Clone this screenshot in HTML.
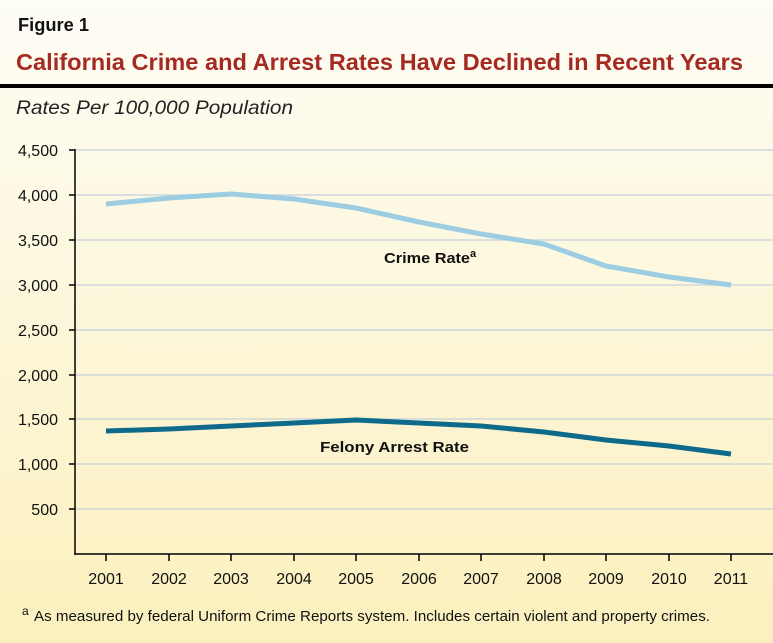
<!DOCTYPE html>
<html><head><style>
body{margin:0;width:773px;height:643px;overflow:hidden;font-family:"Liberation Sans",sans-serif;background:linear-gradient(#fefdf6,#fbf0bd);}
</style></head><body>
<svg width="773" height="643" xmlns="http://www.w3.org/2000/svg" style="position:absolute;left:0;top:0">
<text x="18" y="31" font-size="18" font-weight="bold" fill="#111" textLength="71" lengthAdjust="spacingAndGlyphs">Figure 1</text>
<text x="16" y="70" font-size="23" font-weight="bold" fill="#a52a22" textLength="727" lengthAdjust="spacingAndGlyphs">California Crime and Arrest Rates Have Declined in Recent Years</text>
<rect x="0" y="84" width="773" height="4" fill="#000"/>
<text x="16" y="114" font-size="19" font-style="italic" fill="#222" textLength="277" lengthAdjust="spacingAndGlyphs">Rates Per 100,000 Population</text>
<g stroke="#cfd6dc" stroke-width="1.5">
<line x1="76" x2="773" y1="150" y2="150"/><line x1="76" x2="773" y1="195" y2="195"/>
<line x1="76" x2="773" y1="240" y2="240"/><line x1="76" x2="773" y1="285" y2="285"/>
<line x1="76" x2="773" y1="330" y2="330"/><line x1="76" x2="773" y1="375" y2="375"/>
<line x1="76" x2="773" y1="419" y2="419"/><line x1="76" x2="773" y1="464" y2="464"/>
<line x1="76" x2="773" y1="509" y2="509"/>
</g>
<g stroke="#000" stroke-width="1.5" fill="none">
<line x1="75" y1="149" x2="75" y2="555"/><line x1="75" y1="554" x2="773" y2="554"/>
<path d="M69 150h6M69 195h6M69 240h6M69 285h6M69 330h6M69 375h6M69 419h6M69 464h6M69 509h6"/>
<path d="M106 554v7M169 554v7M231 554v7M294 554v7M356 554v7M419 554v7M481 554v7M544 554v7M606 554v7M669 554v7M731 554v7"/>
</g>
<g font-size="16" fill="#111" text-anchor="end">
<text x="58" y="156">4,500</text><text x="58" y="201">4,000</text><text x="58" y="246">3,500</text>
<text x="58" y="291">3,000</text><text x="58" y="336">2,500</text><text x="58" y="381">2,000</text>
<text x="58" y="425">1,500</text><text x="58" y="470">1,000</text><text x="58" y="515">500</text>
</g>
<g font-size="16" fill="#111" text-anchor="middle">
<text x="106" y="584">2001</text><text x="169" y="584">2002</text><text x="231" y="584">2003</text>
<text x="294" y="584">2004</text><text x="356" y="584">2005</text><text x="419" y="584">2006</text>
<text x="481" y="584">2007</text><text x="544" y="584">2008</text><text x="606" y="584">2009</text>
<text x="669" y="584">2010</text><text x="731" y="584">2011</text>
</g>
<polyline fill="none" stroke="#9dcde2" stroke-width="5" stroke-linejoin="round" points="106,204 169,198 231,194 294,199 356,208 419,222 481,234 544,244 606,266 669,277 731,285"/>
<polyline fill="none" stroke="#0e6a8a" stroke-width="5" stroke-linejoin="round" points="106,431 169,429 231,426 294,423 356,420 419,423 481,426 544,432 606,440 669,446 731,454"/>
<text x="384" y="263" font-size="15" font-weight="bold" fill="#111"><tspan textLength="86" lengthAdjust="spacingAndGlyphs">Crime Rate</tspan><tspan font-size="11" dy="-6">a</tspan></text>
<text x="320" y="452" font-size="15" font-weight="bold" fill="#111" textLength="149" lengthAdjust="spacingAndGlyphs">Felony Arrest Rate</text>
<text x="22" y="615" font-size="12" fill="#111">a</text>
<text x="34" y="621" font-size="15" fill="#111" textLength="676" lengthAdjust="spacingAndGlyphs">As measured by federal Uniform Crime Reports system. Includes certain violent and property crimes.</text>
</svg>
</body></html>
